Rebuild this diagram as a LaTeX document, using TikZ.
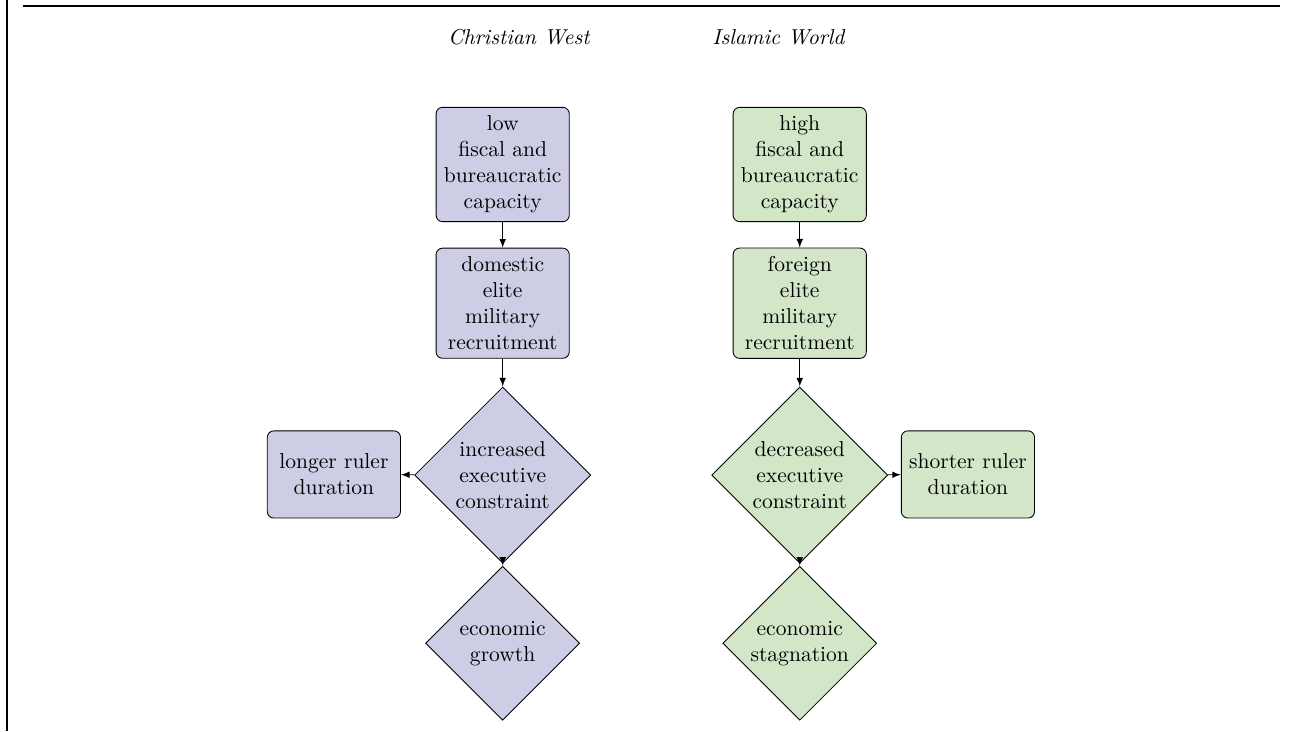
\documentclass[tikz,border=0pt]{standalone}
\usepackage{amssymb}
\usepackage{amsmath}
\usepackage{tikz}
\usepackage{color}
\usetikzlibrary{shapes.geometric,arrows}
\definecolor{westfill}{RGB}{206,205,230}
\definecolor{eastfill}{RGB}{211,231,200}

\begin{document}
\begin{tikzpicture}[
  box/.style={draw, rounded corners=3pt, align=center, text width=1.95cm, minimum width=2.17cm, inner xsep=3pt, inner ysep=4pt},
  sidebox/.style={box, minimum height=1.42cm},
  bigdiam/.style={draw, diamond, aspect=1, align=center, inner sep=0pt, minimum size=2.87cm},
  smalldiam/.style={draw, diamond, aspect=1, align=center, inner sep=0pt, minimum size=2.51cm},
  conn/.style={-latex}
]
\useasboundingbox (0,0) rectangle (21.05,-11.91);
\draw[thick] (0.11,0)--(0.11,-11.91);
\draw[thick] (0.37,-0.1)--(20.85,-0.1);
\node (cw) at (8.46,-0.60) {\textit{Christian West}};
\node (iw) at (12.69,-0.60) {\textit{Islamic World}};
\node[box, fill=westfill] (wcap) at (8.19,-2.68) {low\\ fiscal and\\ bureaucratic\\ capacity};
\node[box, fill=westfill] (wmil) at (8.19,-4.94) {domestic\\ elite\\ military\\ recruitment};
\node[bigdiam, fill=westfill] (wexe) at (8.19,-7.74) {increased\\ executive\\ constraint};
\node[smalldiam, fill=westfill] (weco) at (8.19,-10.48) {economic\\ growth};
\node[sidebox, fill=westfill] (wrul) at (5.44,-7.73) {longer ruler\\ duration};
\node[box, fill=eastfill] (icap) at (13.03,-2.68) {high\\ fiscal and\\ bureaucratic\\ capacity};
\node[box, fill=eastfill] (imil) at (13.03,-4.94) {foreign\\ elite\\ military\\ recruitment};
\node[bigdiam, fill=eastfill] (iexe) at (13.03,-7.74) {decreased\\ executive\\ constraint};
\node[smalldiam, fill=eastfill] (ieco) at (13.03,-10.48) {economic\\ stagnation};
\node[sidebox, fill=eastfill] (irul) at (15.77,-7.73) {shorter ruler\\ duration};
\draw[conn] (wcap)--(wmil);
\draw[conn] (wmil)--(wexe);
\draw[conn] (wexe)--(weco);
\draw[conn] (wexe)--(wrul);
\draw[conn] (icap)--(imil);
\draw[conn] (imil)--(iexe);
\draw[conn] (iexe)--(ieco);
\draw[conn] (iexe)--(irul);
\end{tikzpicture}
\end{document}
